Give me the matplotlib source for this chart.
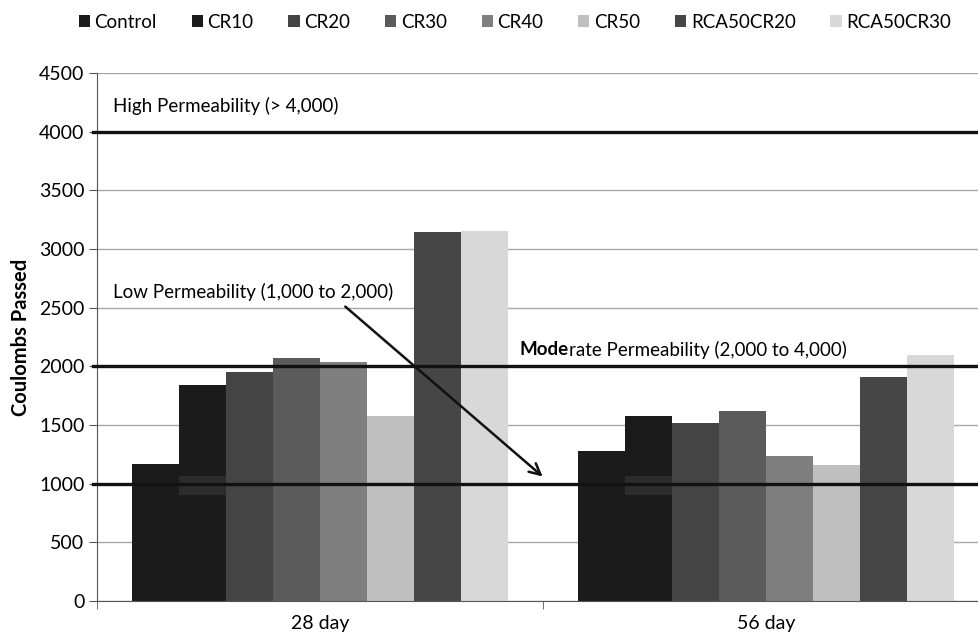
import numpy as np
import matplotlib
matplotlib.use("Agg")
import matplotlib.pyplot as plt
from matplotlib.transforms import offset_copy

plt.rcParams['font.family'] = ['Lato', 'DejaVu Sans']

# data
periods = ['28 day', '56 day']
mixes = ['Control', 'CR10', 'CR20', 'CR30', 'CR40', 'CR50', 'RCA50CR20', 'RCA50CR30']
day28 = [1165, 1840, 1950, 2070, 2035, 1575, 3145, 3150]
day56 = [1275, 1580, 1515, 1620, 1235, 1160, 1910, 2095]
colors = ['#1b1b1b', '#1b1b1b', '#444444', '#5b5b5b', '#7f7f7f', '#bfbfbf', '#464646', '#d8d8d8']
limits = [1000, 2000, 4000]

fig = plt.figure(figsize=(9.79, 6.36), dpi=100)
ax = fig.add_axes([97/979, 1-601/636, (989-97)/979, (601-73)/636])

x = np.arange(len(periods))
w = 0.845 / len(mixes)
bars = []
for i, m in enumerate(mixes):
    vals = [day28[i], day56[i]]
    b = ax.bar(x - 0.4225 + w*(i+0.5), vals, w, color=colors[i], label=m, zorder=2)
    bars.append(b)

# odd dark smudge on the 1000 line over the CR10 bars
for r in bars[1]:
    ax.add_patch(plt.Rectangle((r.get_x(), 905), r.get_width(), 160,
                               color='#2c2c2c', zorder=2.5, lw=0))

for v in limits:
    ax.axhline(v, xmin=-0.005, color='#111111', lw=2.4, zorder=3, clip_on=False)

ax.set_xlim(-0.5, 1.5)
ax.set_ylim(0, 4500)
ax.set_yticks(np.arange(0, 4501, 500))
ax.yaxis.grid(True, color='#a8a8a8', lw=1)
ax.set_axisbelow(True)
ax.set_xticks(x)
ax.set_xticklabels(periods)
ax.set_xticks([-0.5, 0.5, 1.5], minor=True)
ax.tick_params(axis='x', which='major', length=0, labelsize=14, pad=10)
ax.tick_params(axis='x', which='minor', length=6, color='#555555')
ax.tick_params(axis='y', length=6, color='#555555', labelsize=14, pad=3)
for s in ['top', 'right']:
    ax.spines[s].set_visible(False)
ax.spines['left'].set_color('#555555')
ax.spines['bottom'].set_color('#555555')
ax.set_ylabel('Coulombs Passed', fontsize=14.5, fontweight='bold', labelpad=6)

fs = 13.5
ax.text(-0.464, 4215, 'High Permeability (> 4,000)', fontsize=fs, va='center')
ax.text(-0.464, 2635, 'Low Permeability (1,000 to 2,000)', fontsize=fs, va='center')
t1 = ax.text(0.448, 2140, 'Mode', fontsize=fs, va='center', fontweight='bold')
fig.canvas.draw()
wpx = t1.get_window_extent().width
ax.text(0.448, 2140, 'rate Permeability (2,000 to 4,000)', fontsize=fs, va='center',
        transform=offset_copy(ax.transData, fig=fig, x=wpx, y=0, units='dots'))

ax.annotate('', xy=(0.504, 1045), xytext=(0.052, 2525),
            arrowprops=dict(arrowstyle='->', color='#111111', lw=1.8, mutation_scale=20),
            zorder=4)

fig.legend(loc='center', bbox_to_anchor=(0.526, 0.965), ncol=8, frameon=False,
           fontsize=13.5, handlelength=0.6, handleheight=0.6, handletextpad=0.25,
           columnspacing=1.85)

fig.savefig('out.png', dpi=100)
